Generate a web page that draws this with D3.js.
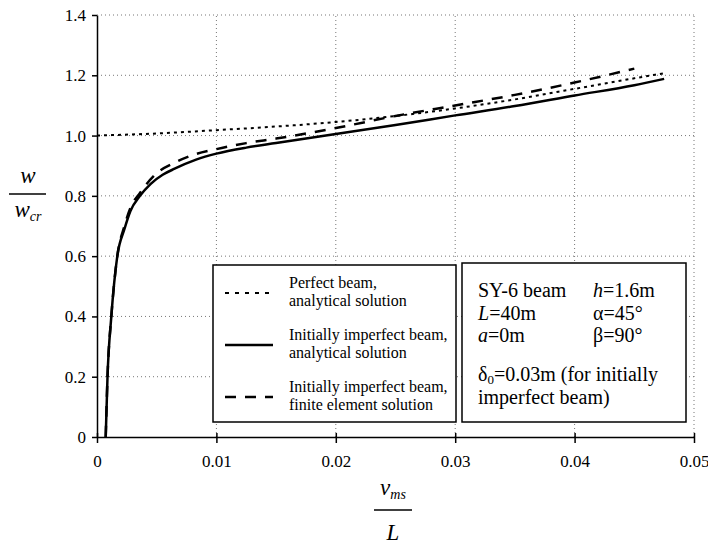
<!DOCTYPE html>
<html>
<head>
<meta charset="utf-8">
<script src="https://d3js.org/d3.v7.min.js"></script>
<style>
  body { margin: 0; background: #fff; }
  .grid line { stroke: #777; stroke-width: 1; stroke-dasharray: 1,3; }
  .axis path, .axis line { stroke: #000; stroke-width: 1.5; }
</style>
</head>
<body>
<svg id="chart" width="708" height="548" font-family="Liberation Serif, Times New Roman, serif"></svg>
<script>
// x = v_ms / L, y = w / w_cr
var xTicks = [0, 0.01, 0.02, 0.03, 0.04, 0.05];
var yTicks = [0, 0.2, 0.4, 0.6, 0.8, 1.0, 1.2, 1.4];

var perfectX = [0, 0.005, 0.01, 0.015, 0.02, 0.025, 0.03, 0.035, 0.04, 0.045, 0.0475];
var perfectY = [1.0, 1.007, 1.018, 1.03, 1.045, 1.065, 1.09, 1.12, 1.155, 1.19, 1.207];

var imperfX = [0.00073, 0.00088, 0.0012, 0.0017, 0.0023, 0.0028, 0.0036, 0.0045, 0.0055, 0.0065, 0.0083, 0.01, 0.0125, 0.015, 0.0175, 0.02, 0.025, 0.03, 0.035, 0.04, 0.045, 0.0475];
var imperfY = [0, 0.2, 0.4, 0.6, 0.69, 0.75, 0.8, 0.84, 0.87, 0.89, 0.92, 0.94, 0.96, 0.975, 0.99, 1.005, 1.035, 1.067, 1.098, 1.133, 1.167, 1.188];

var feX = [0.00073, 0.00088, 0.0012, 0.0017, 0.0023, 0.0028, 0.0036, 0.005, 0.0065, 0.008, 0.01, 0.0125, 0.015, 0.02, 0.025, 0.03, 0.035, 0.04, 0.045];
var feY = [0, 0.2, 0.4, 0.6, 0.7, 0.76, 0.81, 0.875, 0.91, 0.935, 0.955, 0.975, 0.99, 1.025, 1.065, 1.1, 1.135, 1.176, 1.222];

var legendLabels = [
  ["Perfect beam,", "analytical solution"],
  ["Initially imperfect beam,", "analytical solution"],
  ["Initially imperfect beam,", "finite element solution"]
];

var serif = "Liberation Serif, Times New Roman, serif";
var svg = d3.select("#chart");

var x = d3.scaleLinear().domain([0, 0.05]).range([97, 694]);
var y = d3.scaleLinear().domain([0, 1.4]).range([437, 15]);

// grid
var grid = svg.append("g").attr("class", "grid");
grid.selectAll(".h").data(yTicks.slice(1)).enter().append("line")
  .attr("x1", x(0)).attr("x2", x(0.05))
  .attr("y1", function(d) { return y(d); }).attr("y2", function(d) { return y(d); });
grid.selectAll(".v").data(xTicks.slice(1)).enter().append("line")
  .attr("x1", function(d) { return x(d); }).attr("x2", function(d) { return x(d); })
  .attr("y1", y(0)).attr("y2", y(1.4));

// axes
var yAxis = svg.append("g").attr("class", "axis")
  .attr("transform", "translate(" + x(0) + ",0)")
  .call(d3.axisLeft(y).tickValues(yTicks).tickSizeOuter(0).tickSizeInner(5).tickPadding(6)
    .tickFormat(function(d) { return d === 0 ? "0" : d.toFixed(1); }));
yAxis.selectAll(".tick line").attr("x2", -5).attr("x1", 0);

var xAxis = svg.append("g").attr("class", "axis")
  .attr("transform", "translate(0," + y(0) + ")")
  .call(d3.axisBottom(x).tickValues(xTicks).tickSizeOuter(0).tickSizeInner(6).tickPadding(12)
    .tickFormat(function(d) { return d === 0 ? "0" : d.toFixed(2); }));
xAxis.selectAll(".tick line").attr("y1", -4);

svg.selectAll(".axis").attr("font-family", serif).attr("font-size", 17);
svg.selectAll(".axis text").style("font-family", serif).style("font-size", "17px").attr("fill", "#000");

// curves
function toPts(xs, ys) { return xs.map(function(v, i) { return [v, ys[i]]; }); }
var line = d3.line().x(function(d) { return x(d[0]); }).y(function(d) { return y(d[1]); })
  .curve(d3.curveMonotoneX);

var series = [
  { pts: toPts(perfectX, perfectY), dash: "3,4", w: 2 },
  { pts: toPts(imperfX, imperfY), dash: null, w: 2.5 },
  { pts: toPts(feX, feY), dash: "11,9", w: 2.5 }
];
svg.append("g").selectAll("path").data(series).enter().append("path")
  .attr("d", function(d) { return line(d.pts); })
  .attr("fill", "none").attr("stroke", "#000")
  .attr("stroke-width", function(d) { return d.w; })
  .attr("stroke-dasharray", function(d) { return d.dash; });

// legend box
var leg = svg.append("g").style("font-family", serif);
leg.append("rect").attr("x", 213).attr("y", 265).attr("width", 243).attr("height", 157)
  .attr("fill", "#fff").attr("stroke", "#000").attr("stroke-width", 1.5);
var legDash = ["4,6", null, "11,9"];
var legY = [293, 345, 397];
legendLabels.forEach(function(lbl, i) {
  leg.append("line").attr("x1", 225).attr("x2", 273).attr("y1", legY[i]).attr("y2", legY[i])
    .attr("stroke", "#000").attr("stroke-width", i === 0 ? 2 : 2.5)
    .attr("stroke-dasharray", legDash[i]);
  var t = leg.append("text").attr("x", 289).attr("y", legY[i] - 5)
    .style("font-size", "16px");
  t.append("tspan").attr("x", 289).text(lbl[0]);
  t.append("tspan").attr("x", 289).attr("dy", 18).text(lbl[1]);
});

// info box
var info = svg.append("g").style("font-family", serif).style("font-size", "20px");
info.append("rect").attr("x", 462).attr("y", 263).attr("width", 224).attr("height", 159)
  .attr("fill", "#fff").attr("stroke", "#000").attr("stroke-width", 1.5);
info.append("text").attr("x", 478).attr("y", 297).text("SY-6 beam");
var t1 = info.append("text").attr("x", 593).attr("y", 297);
t1.append("tspan").attr("font-style", "italic").text("h");
t1.append("tspan").text("=1.6m");
var t2 = info.append("text").attr("x", 478).attr("y", 320);
t2.append("tspan").attr("font-style", "italic").text("L");
t2.append("tspan").text("=40m");
info.append("text").attr("x", 593).attr("y", 320).text("α=45°");
var t3 = info.append("text").attr("x", 478).attr("y", 342);
t3.append("tspan").attr("font-style", "italic").text("a");
t3.append("tspan").text("=0m");
info.append("text").attr("x", 593).attr("y", 342).text("β=90°");
var t4 = info.append("text").attr("x", 478).attr("y", 381);
t4.append("tspan").text("δ");
t4.append("tspan").style("font-size", "13px").attr("dy", 3).text("0");
t4.append("tspan").attr("dy", -3).text("=0.03m (for initially");
info.append("text").attr("x", 478).attr("y", 404).text("imperfect beam)");

// axis titles
var yl = svg.append("g").style("font-family", serif).attr("font-style", "italic").attr("text-anchor", "middle");
yl.append("text").attr("x", 28).attr("y", 183).style("font-size", "23px").text("w");
yl.append("line").attr("x1", 9).attr("x2", 46).attr("y1", 194).attr("y2", 194)
  .attr("stroke", "#000").attr("stroke-width", 1.5);
var wcr = yl.append("text").attr("x", 28).attr("y", 217).style("font-size", "23px");
wcr.append("tspan").text("w");
wcr.append("tspan").style("font-size", "14px").attr("dy", 4).text("cr");

var xl = svg.append("g").style("font-family", serif).attr("font-style", "italic").attr("text-anchor", "middle");
var vms = xl.append("text").attr("x", 393).attr("y", 495).style("font-size", "23px");
vms.append("tspan").text("v");
vms.append("tspan").style("font-size", "14px").attr("dy", 4).text("ms");
xl.append("line").attr("x1", 374).attr("x2", 412).attr("y1", 510).attr("y2", 510)
  .attr("stroke", "#000").attr("stroke-width", 1.5);
xl.append("text").attr("x", 393).attr("y", 540).style("font-size", "23px").text("L");
</script>
</body>
</html>
